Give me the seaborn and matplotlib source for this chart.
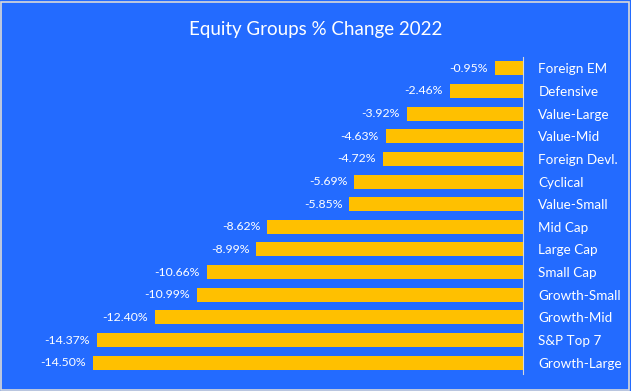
import matplotlib
matplotlib.use("Agg")
import matplotlib.pyplot as plt
import seaborn as sns
import pandas as pd

# data
groups = ["Foreign EM", "Defensive", "Value-Large", "Value-Mid", "Foreign Devl.",
          "Cyclical", "Value-Small", "Mid Cap", "Large Cap", "Small Cap",
          "Growth-Small", "Growth-Mid", "S&P Top 7", "Growth-Large"]
pct_change = [-0.95, -2.46, -3.92, -4.63, -4.72, -5.69, -5.85, -8.62, -8.99,
              -10.66, -10.99, -12.40, -14.37, -14.50]

df = pd.DataFrame({"group": groups, "change": pct_change})

bg = "#236BFF"
sns.set_style("white")
plt.rcParams["font.family"] = ["Lato", "DejaVu Sans"]

fig = plt.figure(figsize=(6.31, 3.91), dpi=100, facecolor=bg)
ax = fig.add_axes([40 / 631, 17 / 391, 483 / 631, 317 / 391])
ax.set_facecolor(bg)

sns.barplot(data=df, x="change", y="group", orient="h", color="#FFC000",
            saturation=1, width=0.62, linewidth=0, ax=ax)

ax.set_xlim(-16.28, 0)
ax.set_ylim(13.5, -0.5)
ax.bar_label(ax.containers[0], labels=[f"{v:.2f}%" for v in pct_change],
             padding=5, color="white", fontsize=8.8)

ax.yaxis.tick_right()
ax.tick_params(axis="y", length=0, pad=11, labelsize=9.7, labelcolor="white")
ax.set_xticks([])
ax.set_xlabel("")
ax.set_ylabel("")
for s in ["top", "left", "bottom"]:
    ax.spines[s].set_visible(False)
ax.spines["right"].set_color("#D9D9D9")
ax.spines["right"].set_linewidth(0.8)

fig.text(0.5, 1 - 30 / 391, "Equity Groups % Change 2022", ha="center", va="center",
         color="white", fontsize=13.5)

# thin grey frame round the chart
fig.patches.append(plt.Rectangle((0.002, 0.003), 0.995, 0.993, transform=fig.transFigure,
                                 fill=False, edgecolor="#D9D9D9", linewidth=1.2))

fig.savefig("out.png", dpi=100, facecolor=bg)
